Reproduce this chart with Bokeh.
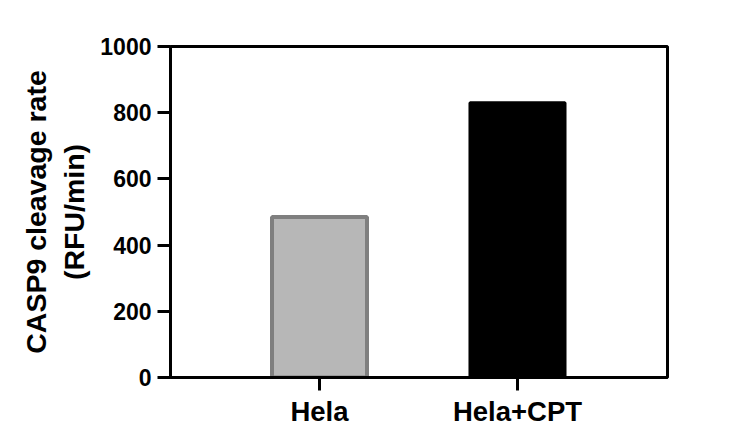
from bokeh.plotting import figure
from bokeh.models import Range1d, FixedTicker
from bokeh.embed import file_html
from bokeh.resources import INLINE

categories = ["Hela", "Hela+CPT"]
values = [485, 830]
fill_colors = ["#b7b7b7", "#000000"]
line_colors = ["#7f7f7f", "#000000"]
line_widths = [4, 3]
y_ticks = [0, 200, 400, 600, 800, 1000]

xs = [i + 1 for i in range(len(categories))]

p = figure(width=742, height=439, output_backend="svg", toolbar_location=None,
           x_range=Range1d(0.2475, 2.7576), y_range=Range1d(0, 1000),
           min_border_left=170, min_border_right=75, min_border_top=46, min_border_bottom=62)

p.vbar(x=xs, top=values, width=0.48, fill_color=fill_colors, line_color=line_colors,
       line_width=line_widths)

FONT = "Liberation Sans"
p.xgrid.visible = False
p.ygrid.visible = False
p.outline_line_color = "black"
p.outline_line_width = 3
p.outline_line_alpha = 1
p.background_fill_color = "white"
p.border_fill_color = "white"

p.xaxis.ticker = FixedTicker(ticks=xs)
p.xaxis.major_label_overrides = {x: c for x, c in zip(xs, categories)}
p.xaxis.minor_tick_line_color = None
p.xaxis.major_tick_in = 0
p.xaxis.major_tick_out = 13
p.xaxis.major_tick_line_width = 3
p.xaxis.axis_line_width = 3
p.xaxis.major_label_standoff = 5
p.xaxis.major_label_text_font = FONT
p.xaxis.major_label_text_font_style = "bold"
p.xaxis.major_label_text_font_size = "27.5px"
p.xaxis.major_label_text_color = "black"

p.yaxis.ticker = FixedTicker(ticks=y_ticks)
p.yaxis.minor_tick_line_color = None
p.yaxis.major_tick_in = 0
p.yaxis.major_tick_out = 13
p.yaxis.major_tick_line_width = 3
p.yaxis.axis_line_width = 3
p.yaxis.major_label_standoff = 6
p.yaxis.major_label_text_font = FONT
p.yaxis.major_label_text_font_style = "bold"
p.yaxis.major_label_text_font_size = "23px"
p.yaxis.major_label_text_color = "black"
p.yaxis.axis_label = "CASP9 cleavage rate\n(RFU/min)"
p.yaxis.axis_label_text_font = FONT
p.yaxis.axis_label_text_font_style = "bold"
p.yaxis.axis_label_text_font_size = "28.5px"
p.yaxis.axis_label_text_color = "black"
p.yaxis.axis_label_standoff = 7

open("out.html", "w").write(file_html(p, INLINE))
